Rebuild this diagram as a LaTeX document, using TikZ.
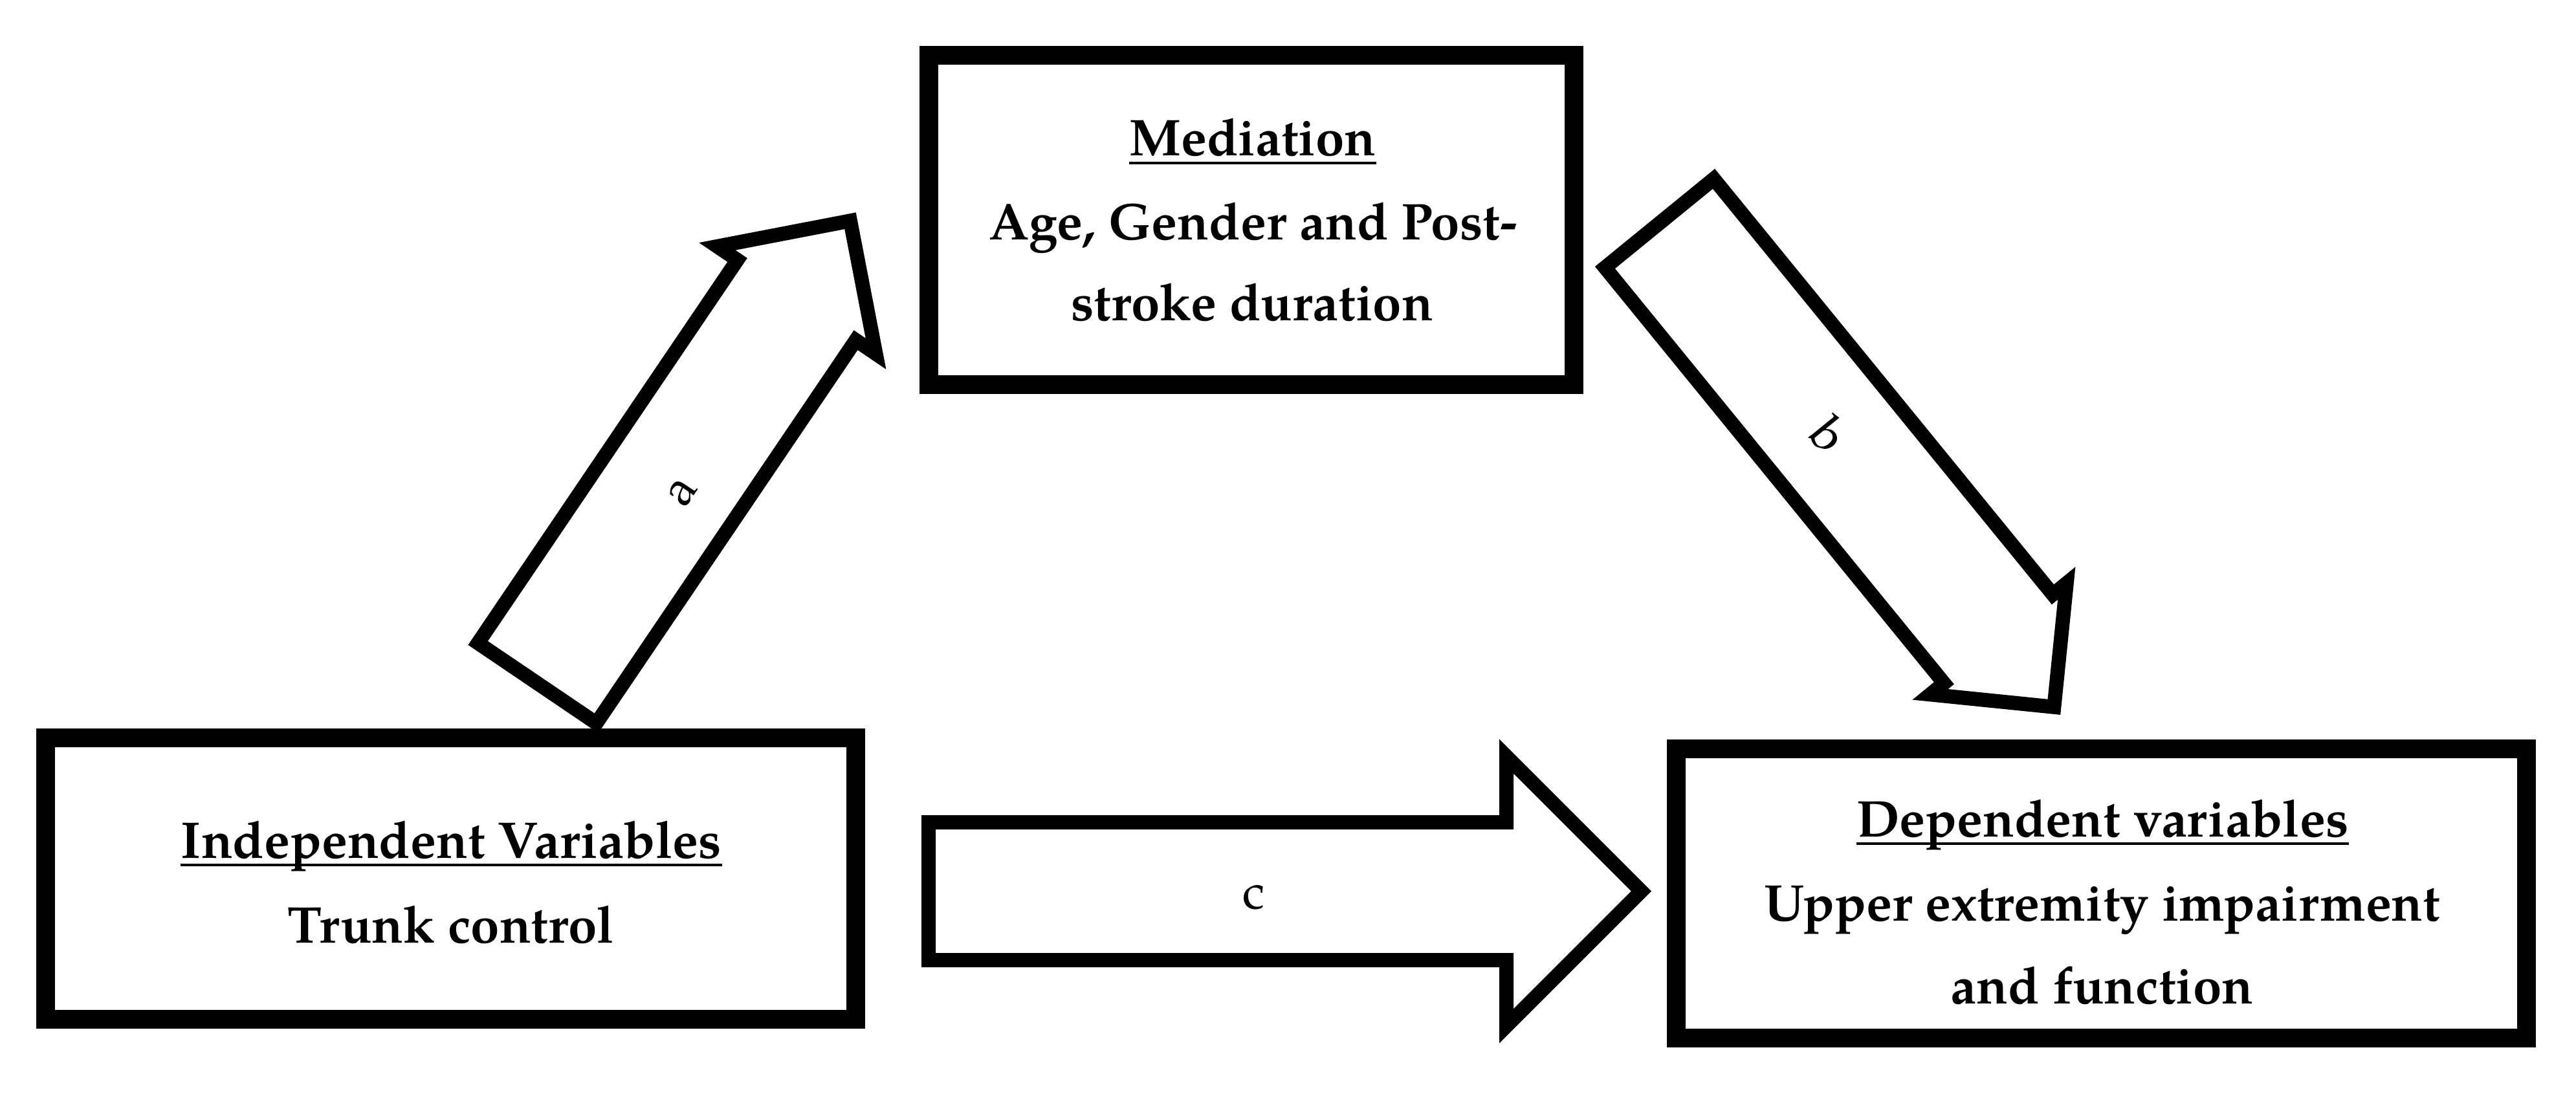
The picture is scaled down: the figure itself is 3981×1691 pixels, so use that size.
\documentclass[tikz,border=0pt]{standalone}
\usepackage{fontspec}
\setmainfont{TeX Gyre Pagella}
\begin{document}
\begin{tikzpicture}[x=0.01cm,y=-0.01cm,
  box/.style={draw=black, line width=0.29cm, inner sep=0pt},
  txt/.style={inner sep=0pt, anchor=base, font=\fontsize{22.7pt}{27pt}\selectfont\bfseries},
  lbl/.style={inner sep=0pt, font=\fontsize{21.9pt}{26pt}\selectfont},
  blockarrow/.style={draw=black, line width=0.22cm, line join=miter, miter limit=10},
  uline/.style={line width=0.04cm}]
\useasboundingbox (0,0) rectangle (3981,1691);

% boxes
\node[box, minimum width=1252*0.01cm, minimum height=435*0.01cm] (ind) at (696.5,1358) {};
\node[box, minimum width=997*0.01cm, minimum height=509*0.01cm] (med) at (1934,340) {};
\node[box, minimum width=1314*0.01cm, minimum height=447*0.01cm] (dep) at (3247.5,1381) {};

% texts
\node[txt] (ind1) at (697.5,1326) {Independent Variables};
\node[txt] (ind2) at (697,1457) {Trunk control};
\node[txt] (med1) at (1936,241) {Mediation};
\node[txt] (med2) at (1936.5,370) {Age, Gender and Post-};
\node[txt] (med3) at (1935,495) {stroke duration};
\node[txt] (dep1) at (3249.5,1293) {Dependent variables};
\node[txt] (dep2) at (3249,1423) {Upper extremity impairment};
\node[txt] (dep3) at (3248.5,1551) {and function};

\foreach \n in {ind1,med1,dep1}
  \draw[uline] ([yshift=-0.11cm]\n.base west) -- ([yshift=-0.11cm]\n.base east);

% arrow a
\begin{scope}[shift={(824,1065)}, rotate=55.9]
  \draw[blockarrow] (11,110.5) -- (726,110.5) -- (726,148) -- (874,0)
    -- (726,-148) -- (726,-110.5) -- (11,-110.5) -- cycle;
\end{scope}
% arrow b
\begin{scope}[shift={(2557.5,336.5)}, rotate=-50.8]
  \draw[blockarrow] (11,108.5) -- (840,108.5) -- (840,136) -- (976,0)
    -- (840,-136) -- (840,-108.5) -- (11,-108.5) -- cycle;
\end{scope}
% arrow c
\draw[blockarrow] (1435,1271) -- (2328,1271) -- (2328,1169) -- (2536.5,1377.5)
  -- (2328,1586) -- (2328,1484) -- (1435,1484) -- cycle;

\node[lbl, rotate=55.9] (la) at (1055,761) {a};
\node[lbl, rotate=-50.8] (lb) at (2827,672) {b};
\node[lbl] (lc) at (1937.5,1386.7) {c};
\end{tikzpicture}
\end{document}
